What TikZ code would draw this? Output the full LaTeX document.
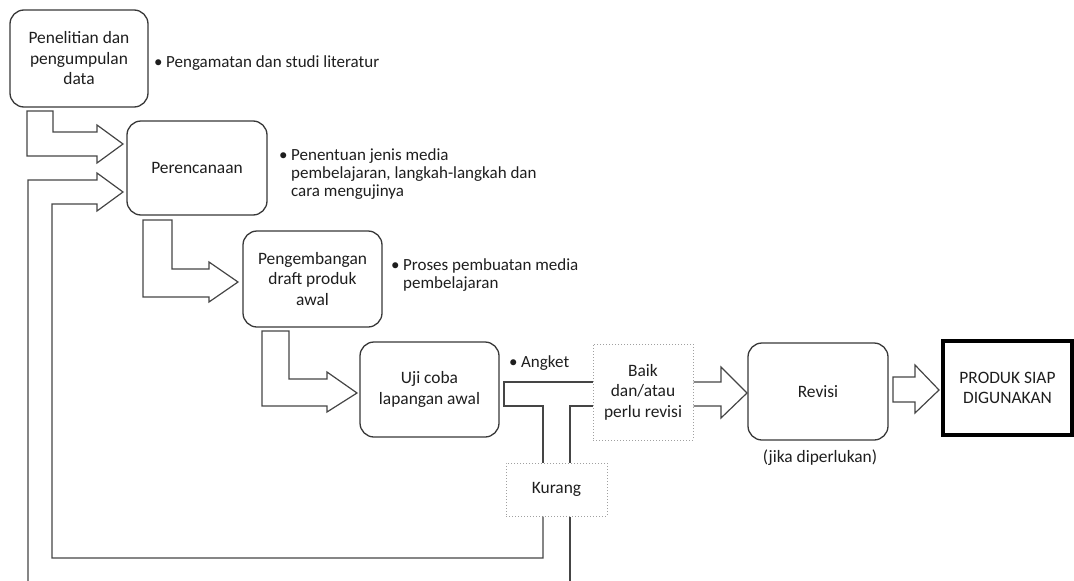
\documentclass[tikz,border=0pt]{standalone}
\usepackage{fontspec}
\setmainfont{Carlito}
\definecolor{boxcol}{HTML}{383838}
\definecolor{arrcol}{HTML}{454545}
\definecolor{dotcol}{HTML}{A0A0A0}
\definecolor{txt}{HTML}{1E1E1E}
\newcommand{\mainfnt}{\fontsize{17.4}{20.5}\selectfont}
\newcommand{\notefnt}{\fontsize{17}{18}\selectfont}
\newcommand{\bulletlist}[1]{\begin{tabular}[t]{@{}l@{\hspace{3.5pt}}l@{}}•&#1\end{tabular}}
\begin{document}
\begin{tikzpicture}[x=1pt,y=-1pt,
  box/.style={draw=boxcol, line width=1.3pt, rounded corners=14pt, fill=white, align=center, text=txt, inner sep=0pt, font=\mainfnt},
  dotbox/.style={draw=dotcol, dotted, line width=1pt, align=center, text=txt, inner sep=0pt, font=\mainfnt},
  endbox/.style={draw=black, line width=3.3pt, align=center, text=txt, inner sep=0pt, font=\mainfnt},
  blk/.style={draw=arrcol, line width=1.2pt, line join=miter},
  fb/.style={draw=arrcol, line width=1.2pt},
  note/.style={text=txt, inner sep=0pt, font=\notefnt}]
\useasboundingbox (0,0) rectangle (1074,581);

% main boxes
\node[box, minimum width=138pt, minimum height=97pt] (b1) at (79,58.5) {Penelitian dan\\pengumpulan\\data};
\node[box, minimum width=140pt, minimum height=94pt] (b2) at (197,168) {Perencanaan};
\node[box, minimum width=139pt, minimum height=96pt] (b3) at (312.5,279) {Pengembangan\\draft produk\\awal};
\node[box, minimum width=139pt, minimum height=95pt] (b4) at (429.5,389.5) {Uji coba\\lapangan awal};
\node[dotbox, minimum width=100pt, minimum height=96pt] (baik) at (643,392) {Baik\\dan/atau\\perlu revisi};
\node[dotbox, minimum width=101pt, minimum height=53pt] (kur) at (556.5,489.5) {Kurang};
\node[box, minimum width=140pt, minimum height=97pt] (rev) at (818,391.5) {Revisi};
\node[endbox, minimum width=129pt, minimum height=94pt] (prod) at (1007.5,388) {PRODUK SIAP\\DIGUNAKAN};

% notes
\node[note, anchor=base west] (n1) at (154,67) {\bulletlist{Pengamatan dan studi literatur}};
\node[note, anchor=base west] (n2) at (279,160) {\bulletlist{Penentuan jenis media\\&pembelajaran, langkah-langkah dan\\&cara mengujinya}};
\node[note, anchor=base west] (n3) at (391,270) {\bulletlist{Proses pembuatan media\\&pembelajaran}};
\node[note, anchor=base west] (n4) at (509,367) {\bulletlist{Angket}};
\node[note, font=\mainfnt] (jk) at (820,458) {(jika diperlukan)};

% block arrows
\draw[blk] (27,111) -- (27,156) -- (97,156) -- (97,163) -- (123,144) -- (97,125) -- (97,132) -- (53,132) -- (53,111) -- cycle;
\draw[blk] (143,220) -- (143,297) -- (209,297) -- (209,302) -- (238,282) -- (209,262) -- (209,269) -- (172,269) -- (172,220) -- cycle;
\draw[blk] (262,331) -- (262,406) -- (327,406) -- (327,412) -- (357,393) -- (327,372) -- (327,379) -- (289,379) -- (289,331) -- cycle;
\draw[blk] (baik.east |- 0,382) -- (721,382) -- (721,367) -- (747,393) -- (721,418) -- (721,406) -- (baik.east |- 0,406);
\draw[blk] (893,377) -- (915,377) -- (915,365) -- (939,390) -- (915,413) -- (915,402) -- (893,402) -- cycle;

% feedback arrow and branches
\draw[fb] (28,581) -- (28,180) -- (97,180) -- (97,173) -- (123,192) -- (97,211) -- (97,204) -- (52,204) -- (52,558) -- (543,558) -- (kur.south -| 543,0);
\draw[fb] (kur.north -| 543,0) -- (543,406) -- (504,406) -- (504,382) -- (baik.west |- 0,382);
\draw[fb] (baik.west |- 0,406) -- (570,406) -- (kur.north -| 570,0);
\draw[fb] (kur.south -| 570,0) -- (570,581);
\end{tikzpicture}
\end{document}
